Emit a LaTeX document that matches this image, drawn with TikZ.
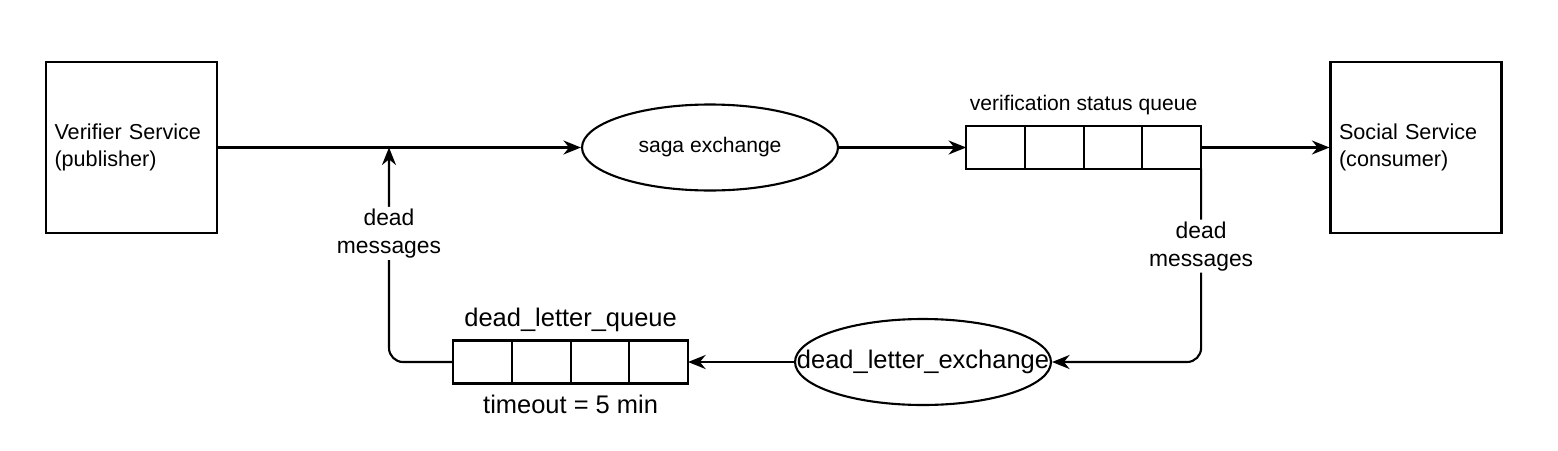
\documentclass[tikz,border=0pt]{standalone}
\usepackage{fontspec}
\setmainfont{Liberation Sans}
\usetikzlibrary{positioning,shapes.geometric,arrows.meta}

\begin{document}
\begin{tikzpicture}[
    x=0.02cm, y=-0.02cm,
    box/.style={rectangle, draw, line width=1.2pt, minimum width=3.42cm, minimum height=3.42cm, text width=3.08cm, align=left, font=\fontsize{12.3}{15.3}\selectfont},
    exch/.style={ellipse, draw, line width=1.2pt, minimum width=5.12cm, minimum height=1.72cm, inner sep=0pt},
    cell/.style={rectangle, draw, line width=1.2pt, minimum width=1.175cm, minimum height=0.86cm, outer sep=0pt},
    arrow/.style={->, line width=1.2pt, >={Stealth[length=10pt,width=8pt]}},
    lbl/.style={fill=white, align=center, inner sep=1pt, font=\fontsize{13}{16}\selectfont}
]
\useasboundingbox (0,0) rectangle (1558,450);

% Services
\node[box] (vs) at (131.5,147.5) {Verifier Service\\(publisher)};
\node[box] (ss) at (1416,147.5) {Social Service\\(consumer)};

% Saga exchange
\node[exch, font=\fontsize{12}{14}\selectfont] (sx) at (710,147.5) {saga exchange};

% Verification status queue
\node[cell] (vq1) at (995.5,147.5) {};
\node[cell, right=0pt of vq1] (vq2) {};
\node[cell, right=0pt of vq2] (vq3) {};
\node[cell, right=0pt of vq3] (vq4) {};
\node[above=1mm of vq2.north east, font=\fontsize{12}{14}\selectfont] (vq_lbl) {verification status queue};

% Dead letter exchange
\node[exch, label={[font=\fontsize{14.5}{17}\selectfont]center:dead\_letter\_exchange}] (dlx) at (923,362) {};

% Dead letter queue
\node[cell] (dq1) at (482.5,362) {};
\node[cell, right=0pt of dq1] (dq2) {};
\node[cell, right=0pt of dq2] (dq3) {};
\node[cell, right=0pt of dq3] (dq4) {};
\node[above=0.5mm of dq2.north east, font=\fontsize{14.5}{17}\selectfont] (dq_lbl) {dead\_letter\_queue};
\node[below=1mm of dq2.south east, font=\fontsize{14.5}{17}\selectfont] (dq_time) {timeout = 5 min};

% Main flow
\draw[arrow] (vs) -- (sx);
\draw[arrow] (sx) -- (vq1);
\draw[arrow] (vq4) -- (ss);

% Dead messages
\coordinate (join) at (389,147.5);
\draw[arrow, rounded corners=8pt] (vq4.south east) |- node[lbl, pos=0.2] {dead\\messages} (dlx);
\draw[arrow] (dlx) -- (dq4);
\draw[arrow, rounded corners=8pt] (dq1.west) -| node[lbl, pos=0.8] {dead\\messages} (join);

\end{tikzpicture}
\end{document}
